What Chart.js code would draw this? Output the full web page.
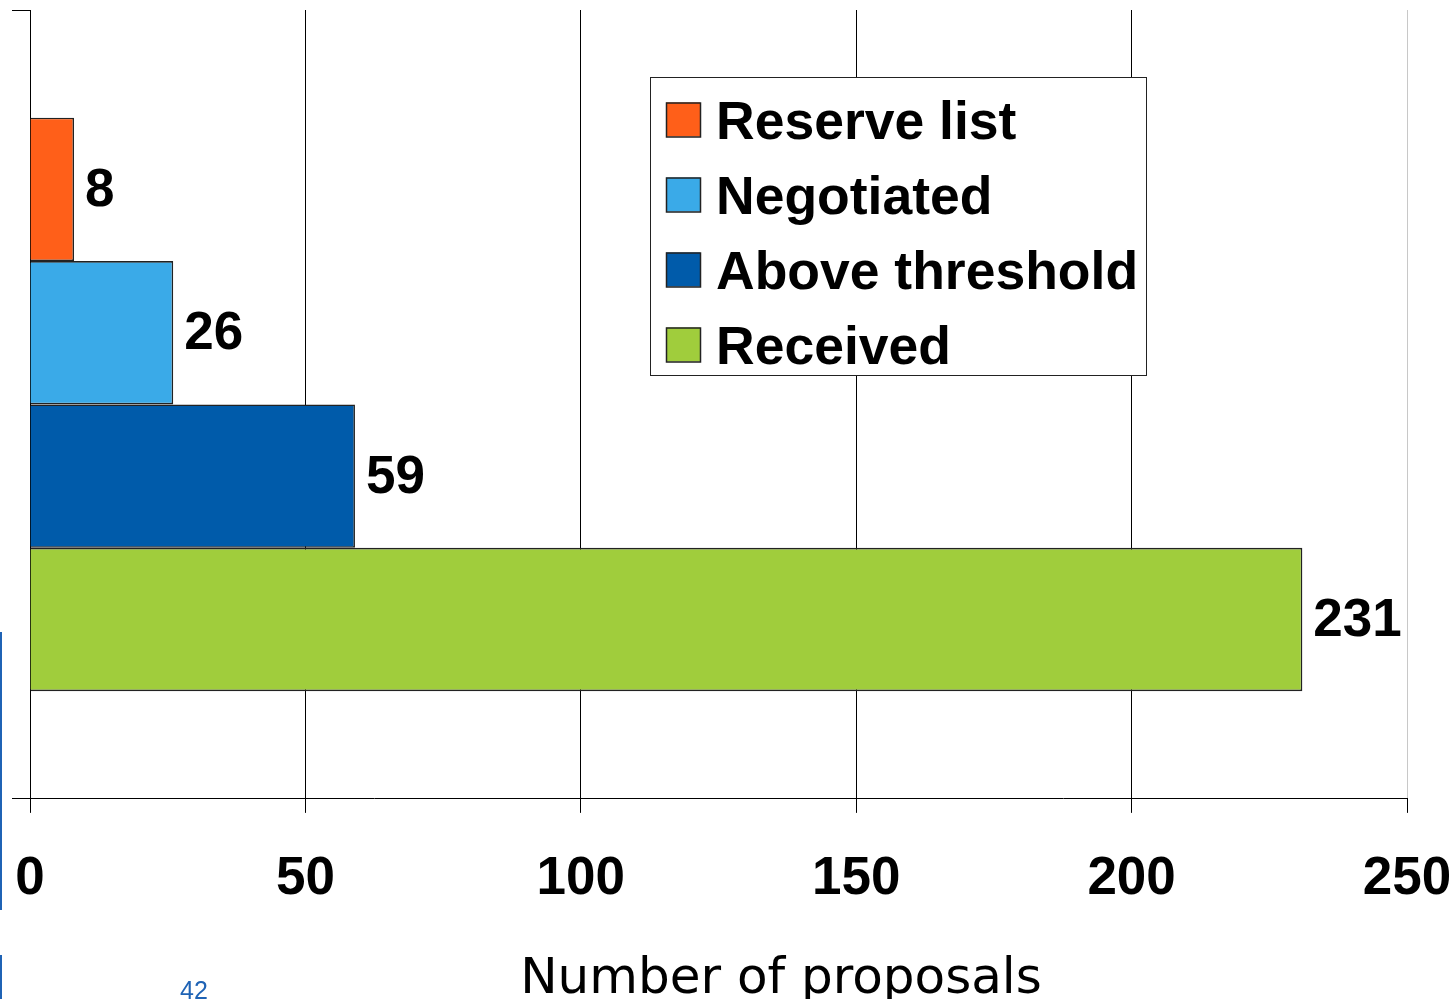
<!DOCTYPE html>
<html>
<head>
<meta charset="utf-8">
<script src="https://cdn.jsdelivr.net/npm/chart.js@4.4.1/dist/chart.umd.min.js"></script>
<style>
  html, body { margin: 0; padding: 0; background: #fff; overflow: hidden; }
  #wrap { position: relative; width: 1455px; height: 999px; }
  canvas { position: absolute; left: 0; top: 0; }
  .edge { position: absolute; left: 0; width: 2px; background: #1f63b5; }
  #page { position: absolute; left: 180px; top: 976px; font: 25px 'Liberation Sans', Arial, sans-serif; color: #1f63b5; }
</style>
</head>
<body>
<div id="wrap">
  <canvas id="c" width="1455" height="999"></canvas>
  <div class="edge" style="top:632px;height:278px"></div>
  <div class="edge" style="top:955px;height:44px"></div>
  <div id="page">42</div>
</div>
<script>
// ── data ─────────────────────────────────────────────────────────────
const CATEGORIES    = [''];
const SERIES_LABELS = ['Reserve list', 'Negotiated', 'Above threshold', 'Received'];
const SERIES_VALUES = [[8], [26], [59], [231]];
const SERIES_COLORS = ['#ff5f19', '#3aaae8', '#005baa', '#a0cd3c'];
const X_TICKS       = [0, 50, 100, 150, 200, 250];
const AXIS_TITLE    = 'Number of proposals';

const FAMILY = "'Liberation Sans', Arial, sans-serif";

const datasets = SERIES_LABELS.map((label, i) => ({
  label,
  data: SERIES_VALUES[i],
  backgroundColor: SERIES_COLORS[i],
  borderColor: '#222',
  borderWidth: 1.6,
  categoryPercentage: 0.727,
  barPercentage: 1.0,
}));

// Value labels just past each bar end
const valueLabels = {
  id: 'valueLabels',
  afterDatasetsDraw(chart) {
    const { ctx } = chart;
    ctx.save();
    ctx.font = `bold 53px ${FAMILY}`;
    ctx.fillStyle = '#000';
    ctx.textAlign = 'left';
    ctx.textBaseline = 'middle';
    chart.data.datasets.forEach((ds, di) => {
      chart.getDatasetMeta(di).data.forEach((bar, i) => {
        ctx.fillText(String(ds.data[i]), bar.x + 11, bar.y + 2);
      });
    });
    ctx.restore();
  },
};

// Boxed legend in the upper right of the plot
const boxLegend = {
  id: 'boxLegend',
  afterDraw(chart) {
    const { ctx } = chart;
    const bx = 650.5, by = 77.5, bw = 496, bh = 298;
    ctx.save();
    ctx.fillStyle = '#fff';
    ctx.fillRect(bx, by, bw, bh);
    ctx.strokeStyle = '#222';
    ctx.lineWidth = 1;
    ctx.strokeRect(bx, by, bw, bh);
    ctx.font = `bold 53.5px ${FAMILY}`;
    ctx.textAlign = 'left';
    ctx.textBaseline = 'alphabetic';
    chart.data.datasets.forEach((ds, i) => {
      const cy = 119.5 + i * 75;
      ctx.fillStyle = ds.backgroundColor;
      ctx.fillRect(666, cy - 17, 34, 34);
      ctx.strokeStyle = '#222';
      ctx.lineWidth = 1.5;
      ctx.strokeRect(666.5, cy - 16.5, 34, 34);
      ctx.fillStyle = '#000';
      ctx.fillText(ds.label, 716, cy + 19);
    });
    ctx.restore();
  },
};

// Axis title, placed as in the source slide
const axisTitle = {
  id: 'axisTitle',
  afterDraw(chart) {
    const { ctx } = chart;
    ctx.save();
    ctx.font = "50px 'DejaVu Sans', sans-serif";
    ctx.fillStyle = '#000';
    ctx.textAlign = 'center';
    ctx.textBaseline = 'alphabetic';
    ctx.fillText(AXIS_TITLE, 781, 993);
    ctx.restore();
  },
};

new Chart(document.getElementById('c').getContext('2d'), {
  type: 'bar',
  data: { labels: CATEGORIES, datasets },
  options: {
    indexAxis: 'y',
    responsive: false,
    devicePixelRatio: 1,
    animation: false,
    layout: { padding: { top: 10, left: 12, right: 48, bottom: 54 } },
    plugins: {
      legend: { display: false },
      tooltip: { enabled: false },
    },
    scales: {
      x: {
        min: X_TICKS[0],
        max: X_TICKS[X_TICKS.length - 1],
        afterBuildTicks: s => { s.ticks = X_TICKS.map(v => ({ value: v })); },
        // tall line height pushes the labels down without widening side padding
        ticks: { color: '#000', font: { family: FAMILY, size: 53, weight: 'bold', lineHeight: 2.38 }, padding: 3, maxRotation: 0 },
        grid: {
          color: c => (c.tick && c.tick.value === 250 ? '#c8c8c8' : '#000'),
          tickColor: '#000',
          tickLength: 14,
          lineWidth: 1,
        },
        border: { color: '#000', width: 1 },
      },
      y: {
        ticks: { display: false },
        grid: { offset: true, drawOnChartArea: false, tickLength: 18, color: '#000', tickColor: '#000' },
        border: { color: '#000', width: 1 },
      },
    },
  },
  plugins: [valueLabels, boxLegend, axisTitle],
});
</script>
</body>
</html>
